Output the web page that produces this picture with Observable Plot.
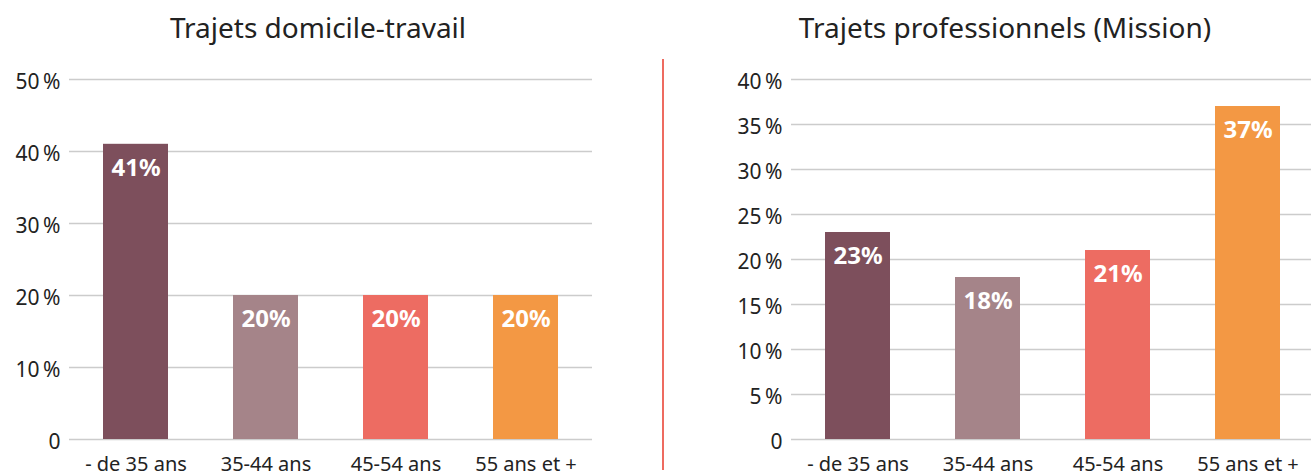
<!DOCTYPE html>
<html>
<head>
<meta charset="utf-8">
<script src="https://cdn.jsdelivr.net/npm/d3@7"></script>
<script src="https://cdn.jsdelivr.net/npm/@observablehq/plot@0.6"></script>
<style>
  html, body { margin: 0; padding: 0; background: #fff; }
  body { width: 1311px; height: 475px; overflow: hidden; position: relative; font-family: "Noto Sans", sans-serif; color: #222; }
  .panel { position: absolute; top: 0; height: 475px; }
  .title { position: absolute; top: 13px; left: 0; font-size: 28px; line-height: 28px; text-align: center; color: #222; white-space: nowrap; }
  .panel svg { position: absolute; top: 55px; left: 0; }
  #divider { position: absolute; left: 662px; top: 59px; width: 2px; height: 411px; background: #ee6b60; }
</style>
</head>
<body>
<div class="panel" id="left" style="left:0px;width:655px"><div class="title" style="width:636px">Trajets domicile-travail</div></div>
<div id="divider"></div>
<div class="panel" id="right" style="left:655px;width:660px"><div class="title" style="width:700px">Trajets professionnels (Mission)</div></div>
<script>
const categories = ["- de 35 ans", "35-44 ans", "45-54 ans", "55 ans et +"];
const colors = ["#7d4f5c", "#a58489", "#ed6c62", "#f39844"];
const domicileValues = [41, 20, 20, 20];
const missionValues = [23, 18, 21, 37];
const domicileTicks = [0, 10, 20, 30, 40, 50];
const missionTicks = [0, 5, 10, 15, 20, 25, 30, 35, 40];

const tickFmt = d => d === 0 ? "0" : d + "\u202F%";

function chart(values, ticks, yMax, width, marginLeft, marginRight) {
  const data = categories.map((c, i) => ({cat: c, value: values[i]}));
  return Plot.plot({
    width,
    height: 420,
    marginTop: 24,
    marginBottom: 36,
    marginLeft,
    marginRight,
    style: {fontFamily: "'Noto Sans', sans-serif", color: "#222", background: "transparent", overflow: "visible"},
    x: {domain: categories, paddingInner: 0.5, paddingOuter: 0.25, label: null},
    y: {domain: [0, yMax], label: null},
    color: {domain: categories, range: colors},
    marks: [
      Plot.gridY(ticks, {stroke: "#cccccc", strokeOpacity: 1, strokeWidth: 1.6}),
      Plot.barY(data, {x: "cat", y: "value", fill: "cat"}),
      Plot.text(data, {x: "cat", y: "value", text: d => d.value + "%", fill: "white", fontWeight: "bold", fontSize: 24, dy: 24}),
      Plot.axisY({ticks, tickSize: 0, tickPadding: 9, fontSize: 21, tickFormat: tickFmt, dy: 3, label: null}),
      Plot.axisX({tickSize: 0, tickPadding: 17, fontSize: 20, label: null})
    ]
  });
}

document.getElementById("left").appendChild(chart(domicileValues, domicileTicks, 50, 655, 69, 63));
document.getElementById("right").appendChild(chart(missionValues, missionTicks, 40, 660, 136, 2));
</script>
</body>
</html>
